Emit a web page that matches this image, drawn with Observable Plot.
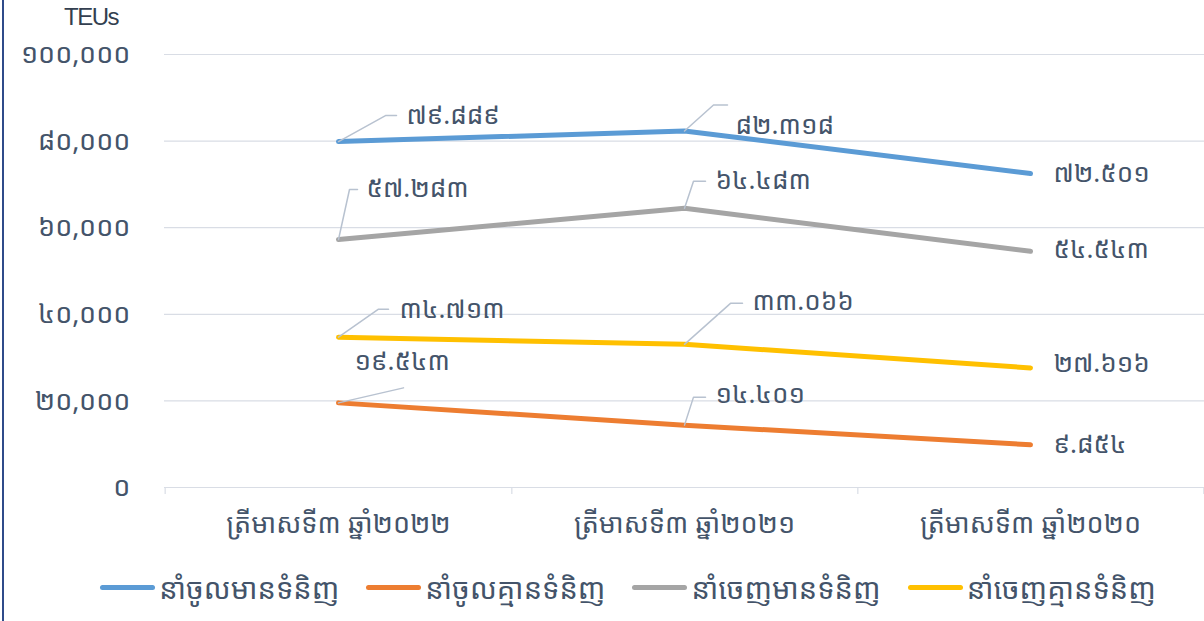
<!DOCTYPE html>
<html><head><meta charset="utf-8">
<script src="https://cdn.jsdelivr.net/npm/d3@7"></script>
<script src="https://cdn.jsdelivr.net/npm/@observablehq/plot@0.6"></script>
<style>
body{margin:0;background:#fff;}
#wrap{position:relative;width:1204px;height:621px;overflow:hidden;background:#fff;font-family:"Noto Sans Khmer","Khmer OS","Khmer OS System","Noto Sans",sans-serif;color:#44546a;}
#frame{position:absolute;left:2px;top:0;width:2px;height:621px;background:#2f4b8a;}
#unit{position:absolute;left:64px;top:3px;font-family:"Liberation Sans",Arial,sans-serif;font-size:24px;color:#333f50;letter-spacing:-1.5px;}
#chart{position:absolute;left:0;top:0;}
#legend{position:absolute;left:0;top:568px;width:1204px;display:flex;justify-content:center;align-items:center;gap:27px;font-size:29px;padding-left:52px;box-sizing:border-box;}
.item{display:flex;align-items:center;}
.sw{display:inline-block;width:55px;height:5px;border-radius:3px;margin-right:4px;}
</style></head>
<body>
<div id="wrap">
  <div id="chart"></div>
  <div id="unit">TEUs</div>
  <div id="legend"></div>
  <div id="frame"></div>
</div>
<script>
// ---- data ----
const categories = ["ត្រីមាសទី៣ ឆ្នាំ២០២២", "ត្រីមាសទី៣ ឆ្នាំ២០២១", "ត្រីមាសទី៣ ឆ្នាំ២០២០"];
const seriesNames = ["នាំចូលមានទំនិញ", "នាំចូលគ្មានទំនិញ", "នាំចេញមានទំនិញ", "នាំចេញគ្មានទំនិញ"];
const importLaden = [79889, 82318, 72501];
const importEmpty = [19543, 14401, 9854];
const exportLaden = [57283, 64483, 54543];
const exportEmpty = [34713, 33066, 27616];
const yTicks = [0, 20000, 40000, 60000, 80000, 100000];
const yTickLabels = ["០", "២០,០០០", "៤០,០០០", "៦០,០០០", "៨០,០០០", "១០០,០០០"];

// ---- styles / layout ----
const seriesColors = ["#5b9bd5", "#ed7d31", "#a5a5a5", "#ffc000"];
// label offsets (px) relative to each point: text start (tx,ty), leader elbow (ex,ey), leader end x (hx)
const labelLayout = [
  [{tx:68,ty:-26,ex:47,ey:-26,hx:58},{tx:51,ty:-5,ex:29,ey:-26,hx:43},{tx:23,ty:0}],
  [{tx:16,ty:-41,ex:65,ey:-15,hx:65},{tx:31,ty:-30,ex:9,ey:-28,hx:21},{tx:23,ty:0}],
  [{tx:28,ty:-51,ex:11,ey:-50,hx:19},{tx:31,ty:-28,ex:9,ey:-27,hx:21},{tx:23,ty:-2}],
  [{tx:61,ty:-28,ex:40,ey:-28,hx:50},{tx:68,ty:-43,ex:46,ey:-41,hx:58},{tx:23,ty:-4}]
];

const seriesValues = [importLaden, importEmpty, exportLaden, exportEmpty];
const khDigits = "០១២៣៤៥៦៧៨៩";
const toKhmer = s => String(s).replace(/[0-9]/g, d => khDigits[+d]);
const fmtLabel = v => toKhmer(d3.format(",")(v).replace(/,/g, "."));

const rows = [];
seriesValues.forEach((vals, s) => vals.forEach((v, i) => rows.push({series: seriesNames[s], s, i, cat: categories[i], value: v})));

const W = 1204, H = 547, ML = 164, MR = 0, MT = 54, MB = 60;
const step = (W - ML - MR) / categories.length;
const font = "'Noto Sans Khmer','Khmer OS','Noto Sans',sans-serif";

const marks = [
  Plot.ruleY(yTicks, {y: d => d, stroke: "#d9dde5", strokeWidth: 1.2}),
  Plot.ruleX([categories[0]], {x: d => d, dx: -step/2, y1: 0, y2: -1600, stroke: "#d9dde5", strokeWidth: 1.2}),
  Plot.ruleX(categories, {x: d => d, dx: step/2, y1: 0, y2: -1600, stroke: "#d9dde5", strokeWidth: 1.2}),
  Plot.line(rows, {x: "cat", y: "value", z: "series", stroke: d => seriesColors[d.s], strokeWidth: 5, strokeLinecap: "round", strokeLinejoin: "round"})
];

rows.forEach(r => {
  const L = labelLayout[r.s][r.i];
  if (L.hx !== undefined) {
    marks.push(Plot.vector([r], {
      x: "cat", y: "value", anchor: "start", length: 1, rotate: 0,
      stroke: "#b8c2d0", strokeWidth: 1.5,
      shape: {draw(ctx) { ctx.moveTo(0, 0); ctx.lineTo(L.ex, L.ey); ctx.lineTo(L.hx, L.ey); }}
    }));
  }
  marks.push(Plot.text([r], {
    x: "cat", y: "value", text: d => fmtLabel(d.value), dx: L.tx, dy: L.ty,
    textAnchor: "start", fontSize: 26, fill: "#44546a", lineAnchor: "middle"
  }));
});

const chart = Plot.plot({
  width: W, height: H, marginLeft: ML, marginRight: MR, marginTop: MT, marginBottom: MB,
  style: {fontSize: "27px", color: "#44546a", fontFamily: font, background: "transparent"},
  x: {type: "point", domain: categories, padding: 0.5, label: null, tickSize: 0, tickPadding: 26},
  y: {domain: [0, 100000], ticks: yTicks, tickFormat: v => yTickLabels[yTicks.indexOf(v)], label: null, tickSize: 0, tickPadding: 34},
  marks
});
chart.querySelectorAll("g[aria-label='y-axis tick label'] text, g[aria-label='y-axis'] text").forEach(t => t.style.fontSize = "27px");
document.getElementById("chart").appendChild(chart);

const legend = document.getElementById("legend");
seriesNames.forEach((n, s) => {
  const it = document.createElement("div"); it.className = "item";
  const sw = document.createElement("span"); sw.className = "sw"; sw.style.background = seriesColors[s];
  const tx = document.createElement("span"); tx.textContent = n;
  it.appendChild(sw); it.appendChild(tx); legend.appendChild(it);
});
</script>
</body></html>
